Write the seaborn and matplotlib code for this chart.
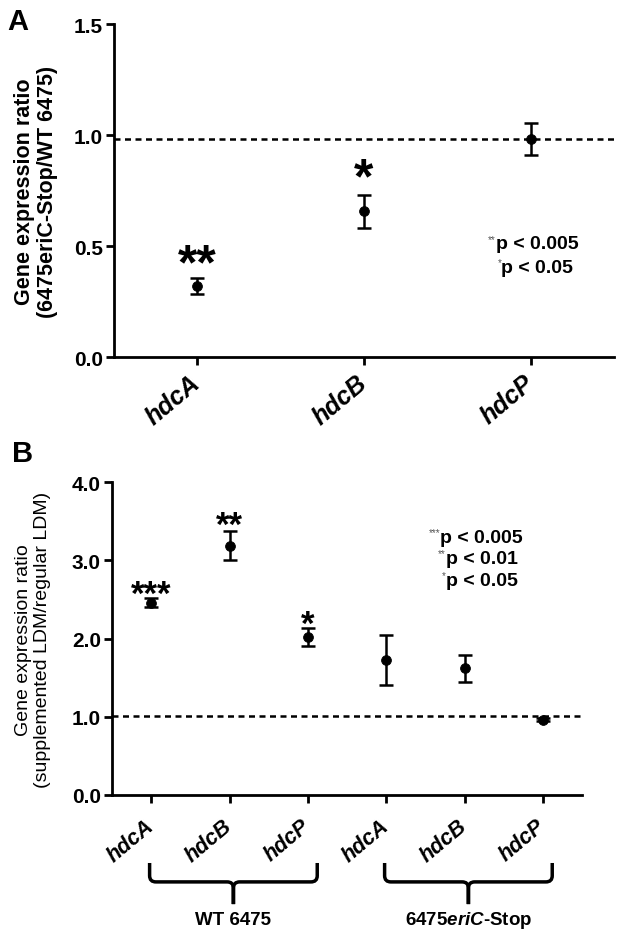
import numpy as np
import matplotlib.pyplot as plt
import matplotlib.transforms as mtransforms
from matplotlib.path import Path
from matplotlib.patches import PathPatch
import seaborn as sns

# Panel A: 6475eriC-Stop / WT 6475
genes_a = ["hdcA", "hdcB", "hdcP"]
ratio_a = [0.32, 0.656, 0.983]
err_a = [0.036, 0.074, 0.073]
stars_a = ["**", "*", ""]
star_y_a = [0.355, 0.74, 0.0]
ref_a = 0.983
pval_stars_a = ["**", "*"]
pval_text_a = ["p < 0.005", "p < 0.05"]

# Panel B: supplemented LDM / regular LDM
genes_b = ["hdcA", "hdcB", "hdcP", "hdcA", "hdcB", "hdcP"]
ratio_b = [2.46, 3.19, 2.02, 1.73, 1.62, 0.963]
err_b = [0.055, 0.19, 0.115, 0.32, 0.17, 0.02]
stars_b = ["***", "**", "*", "", "", ""]
star_y_b = [2.45, 3.33, 2.06, 0.0, 0.0, 0.0]
ref_b = 1.01
pval_stars_b = ["***", "**", "*"]
pval_text_b = ["p < 0.005", "p < 0.01", "p < 0.05"]
groups_b = ["WT 6475", "6475$\\it{eriC}$-Stop"]
group_span_b = [(0, 2), (3, 5)]

sns.set_style("ticks")
plt.rcParams["font.family"] = ["Liberation Sans", "DejaVu Sans"]
plt.rcParams["mathtext.fontset"] = "custom"
plt.rcParams["mathtext.it"] = "Liberation Sans:italic:bold"
plt.rcParams["mathtext.rm"] = "Liberation Sans:bold"
for key in ["text.color", "axes.labelcolor", "xtick.color", "ytick.color",
            "axes.edgecolor"]:
    plt.rcParams[key] = "black"

fig = plt.figure(figsize=(6.24, 9.37), dpi=100)
ax_a = fig.add_axes([0.1827, 0.6179, 0.8013, 0.3554])
ax_b = fig.add_axes([0.1795, 0.1505, 0.7532, 0.3337])


def style_axis(ax, yticks, xlabels, xfs, xpad):
    sns.despine(ax=ax)
    for s in ["left", "bottom"]:
        ax.spines[s].set_linewidth(2)
    ax.tick_params(direction="out", length=6, width=2, colors="black")
    ax.set_yticks(yticks)
    ax.set_yticklabels([f"{t:.1f}" for t in yticks], fontsize=15, weight="bold")
    ax.set_xticks(np.arange(len(xlabels)))
    ax.set_xticklabels(xlabels, fontsize=xfs, weight="bold", style="italic",
                       rotation=40, ha="right", va="center",
                       rotation_mode="anchor")
    ax.tick_params(axis="x", pad=xpad)
    ax.tick_params(axis="y", pad=2)


def draw_points(ax, vals, errs, ref):
    x = np.arange(len(vals))
    ax.axhline(ref, color="black", lw=1.8, ls=(0, (2.4, 1.8)), zorder=1)
    ax.errorbar(x, vals, yerr=errs, fmt="none", ecolor="black",
                elinewidth=1.8, capsize=5, capthick=1.8, zorder=2)
    sns.scatterplot(x=x, y=vals, ax=ax, color="black", s=50,
                    edgecolor="black", zorder=3, legend=False)


def pval_legend(ax, x, ys, stars, texts, fs):
    for y, st, tx in zip(ys, stars, texts):
        t = ax.text(x, y, tx, fontsize=fs, weight="bold", ha="center",
                    va="center")
        ax.annotate(st, xy=(0, 0.78), xycoords=t, fontsize=7,
                    color="#555555", ha="right", va="center")


# ---- Panel A
draw_points(ax_a, ratio_a, err_a, ref_a)
ax_a.set_xlim(-0.5, 2.5)
ax_a.set_ylim(0, 1.5)
style_axis(ax_a, [0.0, 0.5, 1.0, 1.5], genes_a, 18, 10)
for i, (s, y) in enumerate(zip(stars_a, star_y_a)):
    if s:
        ax_a.text(i, y, s, fontsize=36, weight="bold", ha="center",
                  va="baseline")
pval_legend(ax_a, 2.04, [0.51, 0.405], pval_stars_a, pval_text_a, 14)
ax_a.text(-0.156, 0.5, "Gene expression ratio\n(6475eriC-Stop/WT 6475)",
          transform=ax_a.transAxes, rotation=90, ha="center", va="center",
          fontsize=15.5, weight="bold", multialignment="center",
          linespacing=1.15)
fig.text(7 / 624, 1 - 30 / 937, "A", fontsize=21, weight="bold",
         va="baseline")

# ---- Panel B
draw_points(ax_b, ratio_b, err_b, ref_b)
ax_b.set_xlim(-0.5, 5.5)
ax_b.set_ylim(0, 4)
style_axis(ax_b, [0.0, 1.0, 2.0, 3.0, 4.0], genes_b, 15.5, 14)
for i, (s, y) in enumerate(zip(stars_b, star_y_b)):
    if s:
        ax_b.text(i, y, s, fontsize=25, weight="bold", ha="center",
                  va="baseline")
pval_legend(ax_b, 4.22, [3.30, 3.03, 2.75], pval_stars_b, pval_text_b, 14)
ax_b.text(-0.168, 0.5, "Gene expression ratio\n(supplemented LDM/regular LDM)",
          transform=ax_b.transAxes, rotation=90, ha="center", va="center",
          fontsize=14, multialignment="center", linespacing=1.2)
fig.text(12 / 624, 1 - 462 / 937, "B", fontsize=21, weight="bold",
         va="baseline")

# curly brackets under the group tick labels
trans = mtransforms.blended_transform_factory(ax_b.transData, ax_b.transAxes)
top, hy, tip = -0.2175, -0.278, -0.349
rx, ry = 0.08, 0.02
for (g0, g1), name in zip(group_span_b, groups_b):
    xl, xr = g0 - 0.02, g1 + 0.12
    xc = (xl + xr) / 2
    verts = [(xl, top), (xl, hy + ry), (xl, hy), (xl + rx, hy),
             (xc - rx, hy), (xc, hy), (xc, hy - ry), (xc, tip),
             (xc, tip), (xc, hy - ry), (xc, hy), (xc + rx, hy),
             (xr - rx, hy), (xr, hy), (xr, hy + ry), (xr, top)]
    codes = [Path.MOVETO, Path.LINETO, Path.CURVE3, Path.CURVE3,
             Path.LINETO, Path.CURVE3, Path.CURVE3, Path.LINETO,
             Path.MOVETO, Path.LINETO, Path.CURVE3, Path.CURVE3,
             Path.LINETO, Path.CURVE3, Path.CURVE3, Path.LINETO]
    ax_b.add_patch(PathPatch(Path(verts, codes), transform=trans, fill=False,
                             lw=2.5, color="black", clip_on=False))
    ax_b.text(xc, -0.397, name, transform=trans, ha="center", va="center",
              fontsize=13.5, weight="bold")

fig.savefig("out.png", dpi=100)
